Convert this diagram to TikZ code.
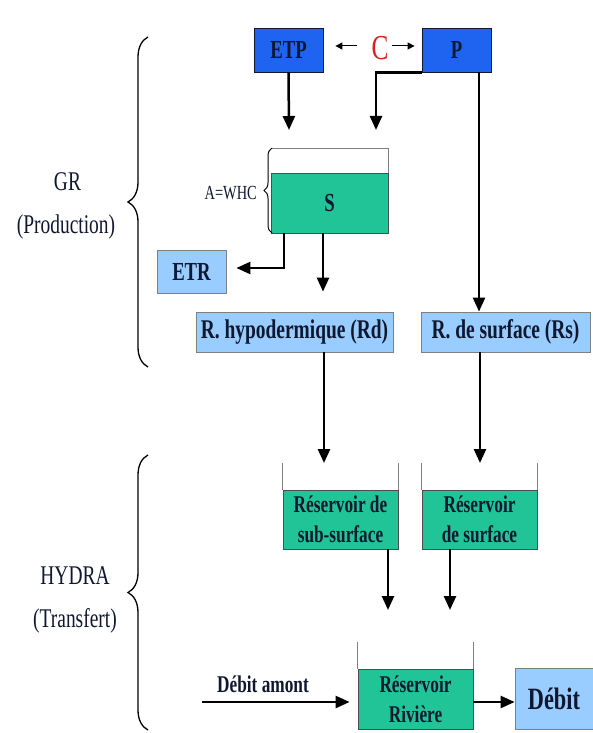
\documentclass[tikz,border=0pt]{standalone}
\usepackage{fontspec}
\setmainfont{Liberation Serif}[FakeStretch=0.72]
\usetikzlibrary{arrows.meta,decorations.pathreplacing}
\definecolor{dblue}{RGB}{30,100,240}
\definecolor{lblue}{RGB}{153,204,255}
\definecolor{wgreen}{RGB}{32,196,150}
\definecolor{txt}{RGB}{16,24,48}
\definecolor{cred}{RGB}{225,30,30}
\begin{document}
\begin{tikzpicture}[x=1pt,y=-1pt,
  flow/.style={line width=2.5pt,-{Triangle[length=14pt,width=12pt]}},
  carrow/.style={line width=1pt,-{Triangle[length=7pt,width=7pt]}},
  darkbox/.style={draw=txt,line width=0.8pt,fill=dblue,inner sep=0pt,text=txt,font=\fontsize{26}{30}\selectfont\bfseries},
  lightbox/.style={draw=gray,line width=0.8pt,fill=lblue,inner sep=0pt,text=txt,font=\fontsize{27}{31}\selectfont\bfseries},
  water/.style={draw=gray!60!black,line width=0.8pt,fill=wgreen,inner sep=0pt,align=center,text=txt,font=\fontsize{24}{30}\selectfont\bfseries},
  wall/.style={draw=gray,line width=0.8pt},
  bigbrace/.style={decorate,decoration={brace,amplitude=20pt},line width=1.3pt},
  smallbrace/.style={decorate,decoration={brace,amplitude=8pt},line width=1pt},
  side/.style={text=txt,font=\fontsize{27}{31}\selectfont}]
\useasboundingbox[fill=white] (0,0) rectangle (593,733);

% top row
\node[darkbox,minimum width=69pt,minimum height=44pt] (ETP) at (288.5,50) {ETP};
\node[darkbox,minimum width=69pt,minimum height=44pt] (P) at (456.5,50) {P};
\node[text=cred,font=\fontsize{35}{38}\selectfont,inner sep=0pt] (C) at (380,48) {C};
\draw[carrow,shorten <=14pt,shorten >=12pt] (C.west |- 0,46) -- (ETP.east |- 0,46);
\draw[carrow,shorten <=3pt,shorten >=7pt] (C.east |- 0,46) -- (P.west |- 0,46);

% soil store S
\node[water,minimum width=117pt,minimum height=60pt,font=\fontsize{26}{30}\selectfont\bfseries] (S) at (329.5,203) {S};
\coordinate (Stop) at (329.5,148);
\draw[wall] (S.north east) -- (S.north east |- Stop) -- (272,148);
\draw[smallbrace] (272,233) -- (272,148);
\node[anchor=east,inner sep=0pt,text=txt,font=\fontsize{20}{23}\selectfont] (A) at (257,193) {A=WHC};

\coordinate (Sin1) at (289,130);
\coordinate (Sin2) at (376,130);
\draw[flow] (ETP.south) -- (Sin1);
\draw[flow] (P.south west) -| (Sin2);

% ETR, Rd, Rs
\node[lightbox,minimum width=69pt,minimum height=43pt,font=\fontsize{26}{30}\selectfont\bfseries] (ETR) at (191.5,271.5) {ETR};
\node[lightbox,minimum width=197pt,minimum height=40pt] (Rd) at (294.5,332) {R. hypodermique (Rd)};
\node[lightbox,minimum width=169pt,minimum height=40pt] (Rs) at (505.5,332) {R. de surface (Rs)};

\coordinate (Sout1) at (284,233);
\coordinate (Sout2) at (323,233);
\draw[flow,shorten >=10pt] (Sout1) |- (ETR.east |- 0,268);
\draw[flow,shorten >=20pt] (Sout2) -- (Sout2 |- Rd.north);
\coordinate (Pout) at (479,72);
\draw[flow] (Pout) -- (Pout |- Rs.north);

% transfer reservoirs
\node[water,minimum width=115pt,minimum height=59pt] (sub) at (340.5,519.5) {Réservoir de\\sub-surface};
\node[water,minimum width=115pt,minimum height=59pt] (surf) at (479.5,519.5) {Réservoir\\de surface};
\draw[wall] (sub.north west) -- ++(0,-27);
\draw[wall] (sub.north east) -- ++(0,-27);
\draw[wall] (surf.north west) -- ++(0,-27);
\draw[wall] (surf.north east) -- ++(0,-27);
\coordinate (subtop) at (324,463);
\coordinate (surftop) at (480,463);
\draw[flow] (Rd.south -| subtop) -- (subtop);
\draw[flow] (Rs.south -| surftop) -- (surftop);

\node[water,minimum width=115pt,minimum height=60pt] (riv) at (415.5,699) {Réservoir\\Rivière};
\draw[wall] (riv.north west) -- ++(0,-27);
\draw[wall] (riv.north east) -- ++(0,-27);
\coordinate (rin1) at (388,642);
\coordinate (rin2) at (450,642);
\draw[flow,shorten >=32pt] (sub.south -| rin1) -- (rin1);
\draw[flow,shorten >=32pt] (surf.south -| rin2) -- (rin2);

\node[lightbox,minimum width=78pt,minimum height=61pt,font=\fontsize{31}{34}\selectfont\bfseries] (Q) at (554,698.5) {Débit};
\draw[flow] (riv.east |- 0,702) -- (Q.west |- 0,702);
\coordinate (amont) at (202,702);
\draw[flow,shorten >=8pt] (amont) -- (amont -| riv.west);
\node[text=txt,font=\fontsize{24}{28}\selectfont\bfseries,inner sep=0pt] (amontlbl) at (263,684) {Débit amont};

% braces and side labels
\draw[bigbrace] (148,367) -- (148,37);
\draw[bigbrace] (148,730) -- (148,455);
\node[side,inner sep=0pt] (GR) at (67.5,182) {GR};
\node[side,inner sep=0pt] (prod) at (66,227) {(Production)};
\node[side,inner sep=0pt] (HY) at (75,576) {HYDRA};
\node[side,inner sep=0pt] (tr) at (75,621) {(Transfert)};
\end{tikzpicture}
\end{document}
